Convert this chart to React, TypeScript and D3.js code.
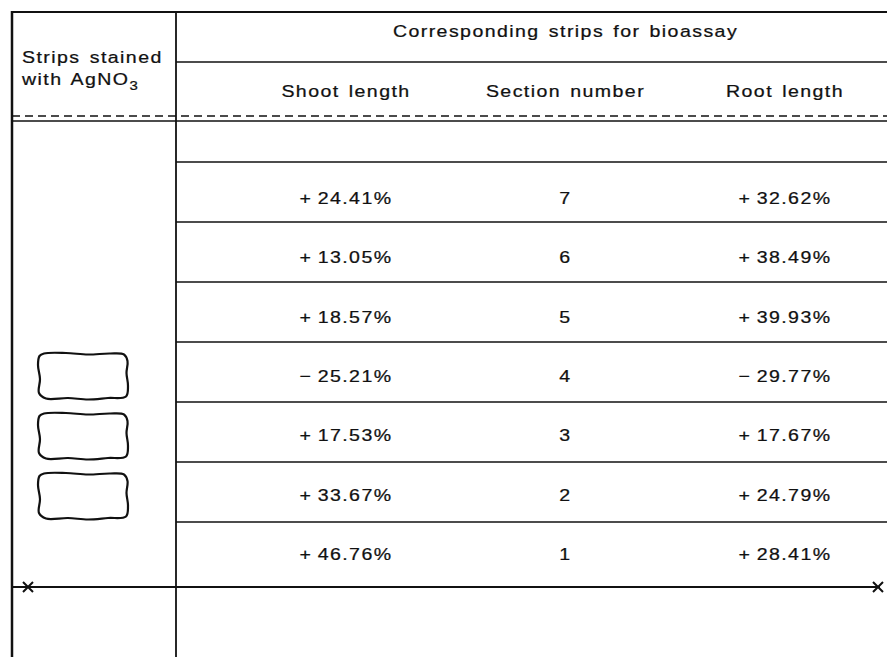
import React from 'react';
import * as d3 from 'd3';

// table contents, read top row to bottom row
const sections = [7, 6, 5, 4, 3, 2, 1];
const shootLength = [24.41, 13.05, 18.57, -25.21, 17.53, 33.67, 46.76];
const rootLength = [32.62, 38.49, 39.93, -29.77, 17.67, 24.79, 28.41];
const columns = ['Shoot length', 'Section number', 'Root length'];
const stainedSections = [4, 3, 2];

const groupTitle = 'Corresponding strips for bioassay';
const leftTitle1 = 'Strips stained';
const leftTitle2 = 'with AgNO';

const font = '"Liberation Sans", Arial, Helvetica, sans-serif';
const ink = '#111';

// wobbly outline of a hand-drawn strip, unit box 90 x 46
const blobShape: [number, number][] = [
    [6, 0.5], [28, 0], [50, 1.5], [72, 0.5], [86, 1.5], [89.5, 8], [88.5, 20], [90, 33],
    [88, 43.5], [70, 45], [50, 46.5], [30, 45], [8, 45.5], [1, 40], [2, 26], [0, 12], [1.5, 3]
];

const fmt = (v: number) => (v < 0 ? '\u2212\u2009' : '+\u2009') + Math.abs(v).toFixed(2) + '%';

const textStyle = {
    fontFamily: font, fontSize: '17px', letterSpacing: '1.25px', wordSpacing: '2px',
    fill: ink, stroke: ink, strokeWidth: 0.25
};

// the typeface of the scan is a little wider than Arial, so stretch it
const Label = ({x, y, anchor = 'start', children}: {x: number, y: number, anchor?: string, children: any}) => (
    <text transform={`translate(${x},${y}) scale(1.15,1)`} textAnchor={anchor} style={textStyle}>{children}</text>
);

const App = () => {
    const width = 887;
    const height = 657;

    const dims = {
        left: 12,
        top: 12,
        divider: 176,
        headSplit: 62,
        dashY: 116,
        headBottom: 121,
        rowsTop: 162,
        rowsBottom: 582,
        baseLine: 587
    };

    const yRow = d3.scaleBand<string>()
        .domain(sections.map(String))
        .range([dims.rowsTop, dims.rowsBottom]);

    // baselines of the row texts
    const yText = d3.scalePoint<string>()
        .domain(sections.map(String))
        .range([204, 560]);

    const xCol = d3.scalePoint<string>()
        .domain(columns)
        .range([346, 785]);

    const blobX = d3.scaleLinear().domain([0, 90]).range([38, 128]);
    const blobLine = (top: number) => d3.line<[number, number]>()
        .x(d => blobX(d[0]))
        .y(d => top + d[1])
        .curve(d3.curveCatmullRomClosed.alpha(0.5));

    const rows = sections.map((s, i) => ({section: s, shoot: shootLength[i], root: rootLength[i]}));

    return (
        <svg width={width} height={height} style={{position: 'absolute', left: 0, top: 0, background: '#fff'}}>
            <g stroke={ink} fill='none'>
                <line x1={dims.left} x2={width} y1={dims.top} y2={dims.top} strokeWidth={2}/>
                <line x1={dims.left} x2={dims.left} y1={dims.top - 1} y2={height} strokeWidth={2.5}/>
                <line x1={dims.divider} x2={dims.divider} y1={dims.top} y2={height} strokeWidth={1.8}/>
                <line x1={dims.divider} x2={width} y1={dims.headSplit} y2={dims.headSplit} strokeWidth={1.5}/>
                <line x1={dims.left} x2={width} y1={dims.dashY} y2={dims.dashY} strokeWidth={1.5} strokeDasharray='8 5'/>
                <line x1={dims.left} x2={width} y1={dims.headBottom} y2={dims.headBottom} strokeWidth={1.5}/>
                {sections.map(s => (
                    <line key={s} x1={dims.divider} x2={width}
                          y1={yRow(String(s))} y2={yRow(String(s))} strokeWidth={1.5}/>
                ))}
                <line x1={dims.left} x2={880} y1={dims.baseLine} y2={dims.baseLine} strokeWidth={1.8}/>
                {[28, 878].map(x => (
                    <path key={x} d={`M${x - 5},${dims.baseLine - 5}L${x + 5},${dims.baseLine + 5}M${x - 5},${dims.baseLine + 5}L${x + 5},${dims.baseLine - 5}`}
                          strokeWidth={2}/>
                ))}
                {stainedSections.map(s => (
                    <path key={s} d={blobLine((yRow(String(s)) as number) + 11)(blobShape) as string} strokeWidth={2.2}/>
                ))}
            </g>

            <Label x={xCol(columns[1]) as number} y={37} anchor='middle'>{groupTitle}</Label>
            <Label x={22} y={63}>{leftTitle1}</Label>
            <Label x={22} y={85}>
                {leftTitle2}<tspan dy={5} style={{fontSize: '13px'}}>3</tspan>
            </Label>
            {columns.map(c => (
                <Label key={c} x={xCol(c) as number} y={97} anchor='middle'>{c}</Label>
            ))}

            {rows.map(r => {
                const y = yText(String(r.section)) as number;
                return (
                    <g key={r.section}>
                        <Label x={xCol(columns[0]) as number} y={y} anchor='middle'>{fmt(r.shoot)}</Label>
                        <Label x={xCol(columns[1]) as number} y={y} anchor='middle'>{r.section}</Label>
                        <Label x={xCol(columns[2]) as number} y={y} anchor='middle'>{fmt(r.root)}</Label>
                    </g>
                );
            })}
        </svg>
    );
};

export default App;
